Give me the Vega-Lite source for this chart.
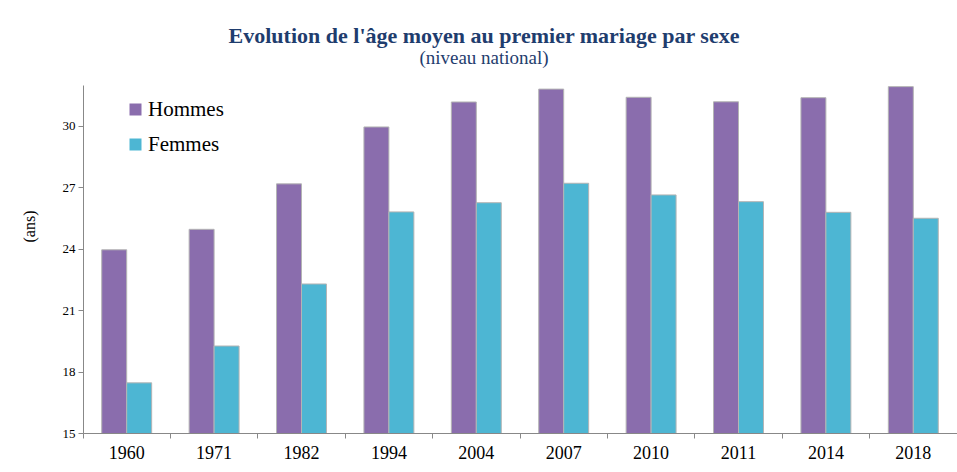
{
  "$schema": "https://vega.github.io/schema/vega-lite/v6.json",
  "width": 874,
  "height": 348,
  "autosize": {"type": "none"},
  "padding": {"left": 83, "top": 85, "right": 0, "bottom": 39},
  "background": "white",
  "title": {
    "text": "Evolution de l'âge moyen au premier mariage par sexe",
    "subtitle": "(niveau national)",
    "anchor": "middle",
    "frame": "group",
    "dx": -36,
    "offset": 16,
    "font": "Liberation Serif",
    "fontSize": 22,
    "fontWeight": "bold",
    "color": "#1F3D6E",
    "subtitleFont": "Liberation Serif",
    "subtitleFontSize": 19,
    "subtitleColor": "#1F3D6E",
    "subtitlePadding": 1
  },
  "data": {
    "values": [
      {"annee": "1960", "sexe": "Hommes", "age": 23.95},
      {"annee": "1960", "sexe": "Femmes", "age": 17.45},
      {"annee": "1971", "sexe": "Hommes", "age": 24.95},
      {"annee": "1971", "sexe": "Femmes", "age": 19.25},
      {"annee": "1982", "sexe": "Hommes", "age": 27.17},
      {"annee": "1982", "sexe": "Femmes", "age": 22.28},
      {"annee": "1994", "sexe": "Hommes", "age": 29.95},
      {"annee": "1994", "sexe": "Femmes", "age": 25.8},
      {"annee": "2004", "sexe": "Hommes", "age": 31.17},
      {"annee": "2004", "sexe": "Femmes", "age": 26.25},
      {"annee": "2007", "sexe": "Hommes", "age": 31.8},
      {"annee": "2007", "sexe": "Femmes", "age": 27.2},
      {"annee": "2010", "sexe": "Hommes", "age": 31.4},
      {"annee": "2010", "sexe": "Femmes", "age": 26.63},
      {"annee": "2011", "sexe": "Hommes", "age": 31.18},
      {"annee": "2011", "sexe": "Femmes", "age": 26.3},
      {"annee": "2014", "sexe": "Hommes", "age": 31.38},
      {"annee": "2014", "sexe": "Femmes", "age": 25.78},
      {"annee": "2018", "sexe": "Hommes", "age": 31.92},
      {"annee": "2018", "sexe": "Femmes", "age": 25.49}
    ]
  },
  "mark": {"type": "bar", "stroke": "#b4b4b4", "strokeWidth": 1, "clip": true},
  "encoding": {
    "x": {
      "field": "annee",
      "type": "nominal",
      "sort": null,
      "scale": {"paddingInner": 0, "paddingOuter": 0},
      "axis": {
        "title": null,
        "labelAngle": 0,
        "labelFont": "Liberation Serif",
        "labelFontSize": 18,
        "labelColor": "#000000",
        "labelPadding": 6,
        "bandPosition": 0,
        "tickSize": 5,
        "tickColor": "#888888",
        "domainColor": "#888888",
        "grid": false
      }
    },
    "xOffset": {
      "field": "sexe",
      "type": "nominal",
      "sort": ["Hommes", "Femmes"],
      "scale": {"paddingOuter": 0.75, "paddingInner": 0}
    },
    "y": {
      "field": "age",
      "type": "quantitative",
      "scale": {"domain": [15, 32], "nice": false, "zero": false},
      "axis": {
        "title": "(ans)",
        "titleFont": "Liberation Serif",
        "titleFontSize": 16,
        "titleFontWeight": "normal",
        "titleColor": "#000000",
        "titleY": 141,
        "titleX": -46,
        "values": [15, 18, 21, 24, 27, 30],
        "labelFont": "Liberation Serif",
        "labelFontSize": 13,
        "labelColor": "#000000",
        "labelPadding": 3,
        "tickSize": 5,
        "tickColor": "#888888",
        "domainColor": "#888888",
        "grid": false
      }
    },
    "color": {
      "field": "sexe",
      "type": "nominal",
      "sort": ["Hommes", "Femmes"],
      "scale": {"domain": ["Hommes", "Femmes"], "range": ["#8A6DAD", "#4DB6D3"]},
      "legend": {
        "title": null,
        "orient": "none",
        "legendX": 42,
        "legendY": 14,
        "symbolType": "square",
        "symbolSize": 144,
        "symbolStrokeWidth": 0,
        "labelFont": "Liberation Serif",
        "labelFontSize": 21,
        "labelColor": "#000000",
        "labelOffset": 2,
        "rowPadding": 13
      }
    }
  },
  "config": {"font": "Liberation Serif", "view": {"stroke": null}}
}
